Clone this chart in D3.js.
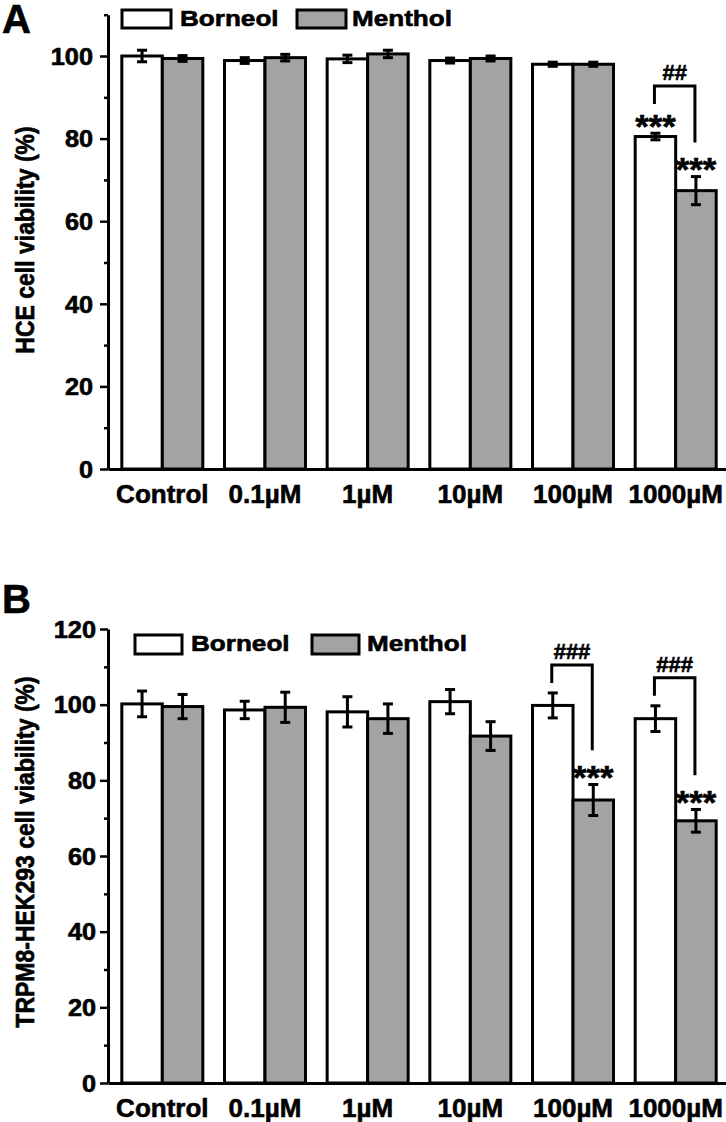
<!DOCTYPE html>
<html><head><meta charset="utf-8">
<script src="https://cdn.jsdelivr.net/npm/d3@7"></script>
<style>
html,body{margin:0;padding:0;background:#fff;}
svg{display:block;font-family:"Liberation Sans",Arial,sans-serif;font-weight:bold;}
svg text{stroke:#000;stroke-width:0.6px;paint-order:stroke;}
</style></head>
<body>
<svg id="chart" width="726" height="1122"></svg>
<script>
// ---------- data ----------
const categories = ["Control", "0.1\u00B5M", "1\u00B5M", "10\u00B5M", "100\u00B5M", "1000\u00B5M"];
const seriesNames = ["Borneol", "Menthol"];
const seriesFill = ["#ffffff", "#a3a3a3"];

const hceBorneol    = [100.0, 98.9, 99.3, 98.9, 98.0, 80.5];
const hceBorneolErr = [1.4, 0.7, 0.9, 0.6, 0.5, 0.8];
const hceMenthol    = [99.4, 99.6, 100.5, 99.4, 98.0, 67.4];
const hceMentholErr = [0.7, 0.8, 0.9, 0.6, 0.5, 3.4];

const trpBorneol    = [100.2, 98.6, 98.1, 100.8, 99.8, 96.3];
const trpBorneolErr = [3.4, 2.3, 4.0, 3.2, 3.3, 3.4];
const trpMenthol    = [99.5, 99.3, 96.3, 91.7, 74.8, 69.3];
const trpMentholErr = [3.2, 4.0, 3.9, 3.8, 4.1, 3.0];

const hceMajorTicks = [0, 20, 40, 60, 80, 100];
const hceMinorTicks = [10, 30, 50, 70, 90, 110];
const trpMajorTicks = [0, 20, 40, 60, 80, 100, 120];
const trpMinorTicks = [10, 30, 50, 70, 90, 110];

const hceStars = [{cat: "1000\u00B5M", series: 0}, {cat: "1000\u00B5M", series: 1}];
const hceBrackets = [{cat: "1000\u00B5M", label: "##"}];
const trpStars = [{cat: "100\u00B5M", series: 1}, {cat: "1000\u00B5M", series: 1}];
const trpBrackets = [{cat: "100\u00B5M", label: "###"}, {cat: "1000\u00B5M", label: "###"}];

// ---------- drawing ----------
const svg = d3.select("#chart");
const axisX = 108;

function stext(g, x, y, str, size, sx, anchor) {
  return g.append("text")
    .attr("transform", `translate(${x},${y}) scale(${sx},1)`)
    .attr("text-anchor", anchor || "start")
    .attr("font-size", size)
    .attr("fill", "#000")
    .text(str);
}

function panel(cfg) {
  const g = svg.append("g");
  const x = d3.scaleBand().domain(categories).range([axisX, 730]).paddingInner(0).paddingOuter(0.029);
  const sub = d3.scaleBand().domain([0, 1]).range([-40.5, 40.5]);
  const y = d3.scaleLinear().domain(cfg.domain).range(cfg.range);

  const data = categories.map((c, i) => ({
    cat: c,
    vals: [
      {s: 0, v: cfg.b[i], e: cfg.be[i]},
      {s: 1, v: cfg.m[i], e: cfg.me[i]}
    ]
  }));

  // bars
  const grp = g.selectAll(".grp").data(data).join("g")
    .attr("transform", d => `translate(${x(d.cat) + x.bandwidth() / 2},0)`);
  grp.selectAll("rect").data(d => d.vals).join("rect")
    .attr("x", d => sub(d.s))
    .attr("width", sub.bandwidth())
    .attr("y", d => y(d.v))
    .attr("height", d => y(0) - y(d.v))
    .attr("fill", d => seriesFill[d.s])
    .attr("stroke", "#000").attr("stroke-width", 3);
  // error bars
  const eb = grp.selectAll(".eb").data(d => d.vals).join("g").attr("class", "eb")
    .attr("transform", d => `translate(${sub(d.s) + sub.bandwidth() / 2},0)`);
  eb.append("line").attr("y1", d => y(d.v - d.e)).attr("y2", d => y(d.v + d.e))
    .attr("stroke", "#000").attr("stroke-width", 3);
  eb.append("line").attr("x1", -5).attr("x2", 5).attr("y1", d => y(d.v + d.e)).attr("y2", d => y(d.v + d.e))
    .attr("stroke", "#000").attr("stroke-width", 3);
  eb.append("line").attr("x1", -5).attr("x2", 5).attr("y1", d => y(d.v - d.e)).attr("y2", d => y(d.v - d.e))
    .attr("stroke", "#000").attr("stroke-width", 3);

  // y axis
  const ya = g.append("g").attr("transform", `translate(${axisX},0)`)
    .call(d3.axisLeft(y).tickValues(cfg.major).tickSize(8).tickSizeOuter(0).tickPadding(cfg.tickPad));
  ya.attr("font-family", null).attr("font-size", null);
  ya.select(".domain").attr("stroke-width", 3);
  ya.selectAll(".tick line").attr("stroke-width", 2.5);
  ya.selectAll(".tick text")
    .attr("font-size", 23).attr("font-weight", "bold")
    .attr("x", null).attr("dy", "0.36em")
    .attr("transform", `translate(${-8 - cfg.tickPad},0) scale(1.1,1)`);
  const ym = g.append("g").attr("transform", `translate(${axisX},0)`)
    .call(d3.axisLeft(y).tickValues(cfg.minor).tickSize(4).tickSizeOuter(0).tickFormat(""));
  ym.select(".domain").remove();
  ym.selectAll(".tick line").attr("stroke-width", 2.5);

  // x axis
  const xa = g.append("g").attr("transform", `translate(0,${y(0)})`)
    .call(d3.axisBottom(x).tickSize(0).tickSizeOuter(0));
  xa.attr("font-family", null).attr("font-size", null);
  xa.select(".domain").attr("stroke-width", 3);
  xa.selectAll(".tick text")
    .attr("font-size", 26).attr("font-weight", "bold")
    .attr("y", 34).attr("dy", 0);

  // y title
  g.append("text")
    .attr("transform", `translate(${cfg.titleX},${cfg.titleY}) rotate(-90) scale(1,1.12)`)
    .attr("text-anchor", "middle").attr("font-size", 23).text(cfg.title);

  // panel letter
  stext(g, 2, cfg.letterY, cfg.letter, 40, 1, "start");

  // legend
  const L = cfg.legend;
  seriesNames.forEach((nm, i) => {
    g.append("rect").attr("x", L.boxX[i]).attr("y", L.y).attr("width", L.w).attr("height", L.h)
      .attr("fill", seriesFill[i]).attr("stroke", "#000").attr("stroke-width", 3);
    stext(g, L.textX[i], L.base, nm, 22.5, 1.16, "start");
  });

  // significance
  const cx = (cat, s) => x(cat) + x.bandwidth() / 2 + sub(s) + sub.bandwidth() / 2;
  const errTop = (cat, s) => {
    const i = categories.indexOf(cat);
    const v = s === 0 ? cfg.b[i] + cfg.be[i] : cfg.m[i] + cfg.me[i];
    return y(v);
  };
  const starSize = 33, starBottom = 0.39 * starSize, starH = 0.34 * starSize;
  const starTop = {};
  cfg.stars.forEach(st => {
    const bottom = errTop(st.cat, st.series) - 8;
    stext(g, cx(st.cat, st.series), bottom + starBottom, "***", starSize, 1.05, "middle");
    starTop[st.cat + "_" + st.series] = bottom - starH;
  });
  cfg.brackets.forEach(br => {
    const lx = cx(br.cat, 0) - 1, rx = cx(br.cat, 1) - 1;
    const lBelow = starTop[br.cat + "_0"] !== undefined ? starTop[br.cat + "_0"] : errTop(br.cat, 0);
    const rBelow = starTop[br.cat + "_1"] !== undefined ? starTop[br.cat + "_1"] : errTop(br.cat, 1);
    const lBot = lBelow - 10;
    const top = lBot - 18;
    const rBot = rBelow - 15;
    g.append("path").attr("d", `M${lx},${lBot}V${top}H${rx}V${rBot}`)
      .attr("fill", "none").attr("stroke", "#000").attr("stroke-width", 3);
    stext(g, (lx + rx) / 2, top - 6, br.label, 22, 1, "middle");
  });
}

panel({
  domain: [0, 110], range: [469, 469 - 110 * 4.13],
  b: hceBorneol, be: hceBorneolErr, m: hceMenthol, me: hceMentholErr,
  major: hceMajorTicks, minor: hceMinorTicks, tickPad: 7,
  title: "HCE cell viability (%)", titleX: 34, titleY: 240,
  letter: "A", letterY: 33,
  legend: {boxX: [122, 297], textX: [180, 352], y: 10, w: 49, h: 18, base: 26},
  stars: hceStars, brackets: hceBrackets
});

panel({
  domain: [0, 120], range: [1083, 629],
  b: trpBorneol, be: trpBorneolErr, m: trpMenthol, me: trpMentholErr,
  major: trpMajorTicks, minor: trpMinorTicks, tickPad: 4,
  title: "TRPM8-HEK293 cell viability (%)", titleX: 34, titleY: 852,
  letter: "B", letterY: 613,
  legend: {boxX: [135, 312], textX: [191, 367], y: 635, w: 47, h: 19, base: 651},
  stars: trpStars, brackets: trpBrackets
});
</script>
</body></html>
